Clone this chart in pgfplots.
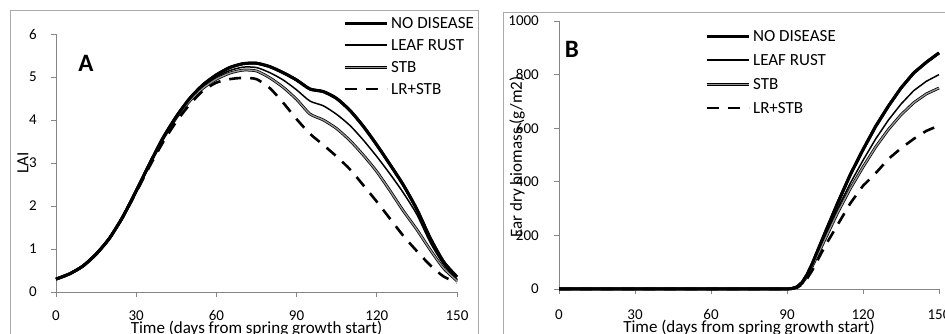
\documentclass[border=0pt]{standalone}
\usepackage{fontspec}
\setmainfont{Carlito}
\usepackage{pgfplots}
\usepackage{pgfplotstable}
\pgfplotsset{compat=1.18}

\definecolor{axgray}{RGB}{134,134,134}
\definecolor{framegray}{RGB}{170,170,170}
\definecolor{stbgray}{RGB}{150,150,150}

\pgfplotstableread{
day nod lr stb lrstb
0 0.30 0.30 0.30 0.30
5 0.42 0.42 0.42 0.42
10 0.60 0.60 0.60 0.60
15 0.88 0.88 0.88 0.88
20 1.25 1.25 1.25 1.25
25 1.75 1.75 1.75 1.74
30 2.35 2.35 2.35 2.32
35 2.98 2.98 2.97 2.92
40 3.58 3.57 3.56 3.48
45 4.08 4.07 4.05 3.96
50 4.50 4.47 4.44 4.36
55 4.82 4.78 4.74 4.68
60 5.05 5.00 4.95 4.87
65 5.22 5.15 5.09 4.95
70 5.31 5.23 5.16 4.98
75 5.32 5.22 5.14 4.95
80 5.24 5.10 4.98 4.74
85 5.10 4.93 4.76 4.40
90 4.93 4.70 4.48 4.02
95 4.72 4.44 4.14 3.68
100 4.66 4.33 4.00 3.42
105 4.50 4.13 3.80 3.15
110 4.22 3.87 3.52 2.85
115 3.85 3.53 3.18 2.48
120 3.42 3.15 2.80 2.10
125 2.96 2.74 2.35 1.70
130 2.48 2.30 1.88 1.30
135 1.92 1.80 1.45 0.95
140 1.25 1.15 0.98 0.62
145 0.70 0.64 0.55 0.36
150 0.35 0.30 0.26 0.22
}\laitable

\pgfplotstableread{
day nod lr stb lrstb
0 0 0 0 0
90 0 0 0 0
92 2 2 2 1
94 8 8 7 5
96 25 24 22 18
98 55 52 48 40
100 95 90 85 70
105 209 195 185 160
110 321 300 285 240
115 427 395 375 320
120 520 480 455 385
125 607 560 530 432
130 682 630 595 485
135 750 690 650 525
140 806 740 695 560
145 846 775 728 590
150 881 800 750 610
}\eartable

\pgfplotsset{
  panel/.style={
    scale only axis, clip=false,
    axis lines*=left,
    axis line style={axgray, line width=0.9pt},
    tick style={axgray, line width=0.9pt},
    tick align=outside, major tick length=5pt,
    xmin=0, xmax=150, xtick={0,30,...,150},
    /pgf/number format/assume math mode=true,
    /pgf/number format/1000 sep={},
    tick label style={font=\fontsize{15}{17}\selectfont, inner sep=0pt},
    label style={font=\fontsize{17}{19}\selectfont},
    legend cell align=left,
    legend image code/.code={\draw[##1] (0pt,0pt) -- (42pt,0pt);},
    legend style={draw=none, fill=none, inner sep=0pt, column sep=3pt,
      font=\fontsize{17}{19}\selectfont,
      nodes={inner sep=0pt, text height=11pt, text depth=0pt}},
  },
  nod/.style={black, line width=3pt},
  lr/.style={black, line width=1.5pt},
  stb/.style={black, line width=0.75pt, double=stbgray, double distance=1.3pt},
  lrstb/.style={black, line width=2.6pt, dash pattern=on 12pt off 9pt},
}

\begin{document}
\begin{tikzpicture}
\path[use as bounding box] (0pt,0pt) rectangle (945pt,334pt);
\draw[framegray, line width=1pt] (10pt,-20pt) -- (10pt,323pt) -- (478pt,323pt) -- (478pt,-20pt);
\draw[framegray, line width=1pt] (503pt,-20pt) -- (503pt,321pt) -- (960pt,321pt);

\begin{axis}[panel,
  at={(56pt,42pt)}, anchor=south west,
  width=401pt, height=258pt,
  ymin=0, ymax=6, ytick={0,1,...,6},
  xticklabel style={anchor=base, yshift=-24pt},
  yticklabel style={anchor=east, xshift=-14pt},
  xlabel={Time (days from spring growth start)},
  xlabel style={at={(rel axis cs:0.5,-0.159)}, anchor=base},
  ylabel={LAI},
  ylabel style={at={(rel axis cs:-0.0823,0.5)}, anchor=center},
  legend style={at={(rel axis cs:0.7157,1.064)}, anchor=north west, row sep=11pt},
]
\addplot[nod, smooth, tension=0.4] table[x=day, y=nod] {\laitable};
\addlegendentry{NO DISEASE}
\addplot[lr, smooth, tension=0.4] table[x=day, y=lr] {\laitable};
\addlegendentry{LEAF RUST}
\addplot[stb, smooth, tension=0.4] table[x=day, y=stb] {\laitable};
\addlegendentry{STB}
\addplot[lrstb, smooth, tension=0.4] table[x=day, y=lrstb] {\laitable};
\addlegendentry{LR+STB}
\addplot[nod, smooth, tension=0.4, forget plot] table[x=day, y=nod] {\laitable};
\node[font=\fontsize{25}{27}\selectfont\bfseries] at (rel axis cs:0.0748,0.8876) {A};
\end{axis}

\begin{axis}[panel,
  at={(559pt,45pt)}, anchor=south west,
  width=380pt, height=268pt,
  ymin=0, ymax=1000, ytick={0,200,...,1000},
  xticklabel style={anchor=base, yshift=-26pt},
  yticklabel style={anchor=east, xshift=-15pt},
  xlabel={Time (days from spring growth start)},
  xlabel style={at={(rel axis cs:0.5,-0.164)}, anchor=base},
  ylabel={Ear dry biomass (g/m2)},
  ylabel style={at={(rel axis cs:-0.1105,0.4925)}, anchor=center},
  legend style={at={(rel axis cs:0.384,0.9646)}, anchor=north west, row sep=13pt},
]
\addplot[nod] table[x=day, y=nod] {\eartable};
\addlegendentry{NO DISEASE}
\addplot[lr] table[x=day, y=lr] {\eartable};
\addlegendentry{LEAF RUST}
\addplot[stb] table[x=day, y=stb] {\eartable};
\addlegendentry{STB}
\addplot[lrstb] table[x=day, y=lrstb] {\eartable};
\addlegendentry{LR+STB}
\addplot[nod, forget plot] table[x=day, y=nod] {\eartable};
\node[font=\fontsize{25}{27}\selectfont\bfseries] at (rel axis cs:0.034,0.8955) {B};
\end{axis}
\end{tikzpicture}
\end{document}
